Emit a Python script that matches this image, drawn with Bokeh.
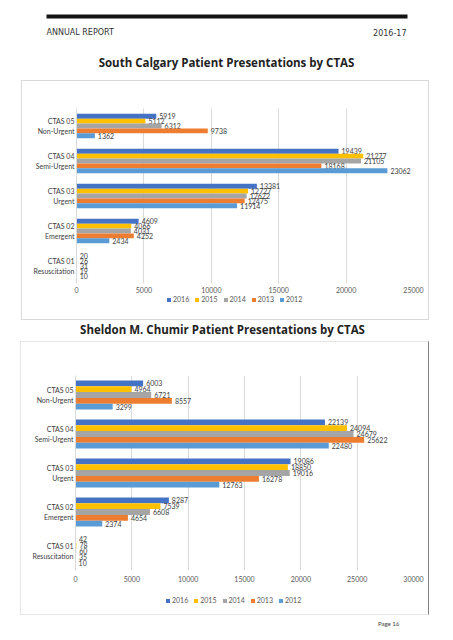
from bokeh.plotting import figure
from bokeh.models import ColumnDataSource, Range1d, FactorRange, FixedTicker, Legend, LegendItem, Spacer
from bokeh.transform import dodge
from bokeh.layouts import column, row
from bokeh.core.properties import value
from bokeh.embed import file_html
from bokeh.resources import INLINE

# ---------------- data ----------------
header_left = "ANNUAL REPORT"
header_right = "2016-17"
title_sc = "South Calgary Patient Presentations by CTAS"
title_smc = "Sheldon M. Chumir Patient Presentations by CTAS"
footer = "Page 16"

categories = ["CTAS 05\nNon-Urgent", "CTAS 04\nSemi-Urgent", "CTAS 03\nUrgent",
              "CTAS 02\nEmergent", "CTAS 01\nResuscitation"]
years = ["2016", "2015", "2014", "2013", "2012"]
colors = ["#4472C4", "#FFC000", "#A5A5A5", "#ED7D31", "#5B9BD5"]

sc_2016 = [5919, 19439, 13381, 4609, 20]
sc_2015 = [5112, 21277, 12727, 4066, 26]
sc_2014 = [6312, 21105, 12622, 4031, 31]
sc_2013 = [9738, 18168, 12475, 4252, 19]
sc_2012 = [1362, 23062, 11914, 2434, 10]
sc_ticks = [0, 5000, 10000, 15000, 20000, 25000]

smc_2016 = [6003, 22139, 19086, 8287, 42]
smc_2015 = [4964, 24094, 18850, 7539, 78]
smc_2014 = [6721, 24679, 19016, 6608, 60]
smc_2013 = [8557, 25622, 16278, 4654, 35]
smc_2012 = [3299, 22480, 12763, 2374, 10]
smc_ticks = [0, 5000, 10000, 15000, 20000, 25000, 30000]

FONT = "Lato"
TFONT = "Open Sans"
LEFT = 54
RIGHT = 15


def blank(h, w=453):
    p = figure(width=w, height=h, x_range=Range1d(0, w), y_range=Range1d(h, 0),
               output_backend="svg", toolbar_location=None, min_border=0,
               x_axis_type=None, y_axis_type=None, outline_line_color=None)
    p.grid.visible = False
    return p


def chart(series, ticks, fw, fh, btop, bbottom, step, bar_h, x_standoff):
    p = figure(frame_width=fw, frame_height=fh, output_backend="svg", toolbar_location=None,
               y_range=FactorRange(factors=categories[::-1], range_padding=0),
               x_range=Range1d(0, ticks[-1]),
               min_border_left=LEFT, min_border_right=RIGHT,
               min_border_top=btop, min_border_bottom=bbottom,
               outline_line_color=None)
    data = {"cat": categories}
    for y, s in zip(years, series):
        data[y] = s
        data["t" + y] = [str(v) for v in s]
    src = ColumnDataSource(data)
    offsets = [2 * step, step, 0, -step, -2 * step]
    for y, c, off in zip(years, colors, offsets):
        p.hbar(y=dodge("cat", off, range=p.y_range), right=y, left=0, height=bar_h,
               source=src, fill_color=c, line_color=None)
        p.text(x=y, y=dodge("cat", off, range=p.y_range), text="t" + y, source=src,
               x_offset=3, text_baseline="middle", text_align="left",
               text_font_size="7px", text_color="#404040", text_font=value(FONT))
    p.ygrid.grid_line_color = None
    p.xgrid.grid_line_color = "#d9d9d9"
    p.xaxis.ticker = FixedTicker(ticks=ticks)
    p.xaxis.axis_line_color = None
    p.xaxis.major_tick_line_color = None
    p.xaxis.minor_tick_line_color = None
    p.xaxis.major_tick_out = 0
    p.xaxis.major_label_text_font_size = "7px"
    p.xaxis.major_label_text_color = "#595959"
    p.xaxis.major_label_text_font = FONT
    p.xaxis.major_label_standoff = x_standoff
    p.yaxis.axis_line_color = "#d9d9d9"
    p.yaxis.major_tick_line_color = None
    p.yaxis.minor_tick_line_color = None
    p.yaxis.major_tick_out = 0
    p.yaxis.major_label_text_font_size = "7px"
    p.yaxis.major_label_text_color = "#404040"
    p.yaxis.major_label_text_font = FONT
    p.yaxis.major_label_standoff = 2
    return p


def legend_fig(w, h, loc):
    p = figure(width=w, height=h, x_range=Range1d(0, 1), y_range=Range1d(0, 1),
               output_backend="svg", toolbar_location=None, min_border=0,
               x_axis_type=None, y_axis_type=None, outline_line_color=None)
    p.grid.visible = False
    items = []
    for y, c in zip(years, colors):
        # zero-size proxy so the legend can draw each series' colour swatch
        r = p.quad(left=[0], right=[0], top=[0], bottom=[0], fill_color=c, line_color=None)
        items.append(LegendItem(label=y, renderers=[r]))
    leg = Legend(items=items, orientation="horizontal", location=loc,
                 glyph_width=5, glyph_height=5, label_text_font_size="7px",
                 label_text_color="#595959", label_text_font=FONT,
                 label_standoff=2, spacing=5, padding=0, margin=0,
                 label_height=8, label_width=0, border_line_color=None,
                 background_fill_alpha=0)
    p.add_layout(leg, "center")
    return p


# header
f0 = blank(80)
f0.quad(left=[46], right=[407], top=[14], bottom=[18], fill_color="#141414", line_color=None)
f0.text(x=[46], y=[32], text=[header_left], text_font=value("DejaVu Sans"), text_font_size="8px",
        text_color="#333333", text_baseline="middle", text_align="left")
f0.text(x=[406], y=[32], text=[header_right], text_font=value("DejaVu Sans"), text_font_size="8px",
        text_color="#333333", text_baseline="middle", text_align="right")
f0.text(x=[226], y=[62], text=[title_sc], text_font=value(TFONT), text_font_size="11.5px",
        text_font_style="bold", text_color="#222222", text_baseline="middle", text_align="center")

# chart 1
f1 = chart([sc_2016, sc_2015, sc_2014, sc_2013, sc_2012], sc_ticks, 337, 175, 27, 12, 0.14, 0.14, 3)
l1 = legend_fig(LEFT + 337 + RIGHT, 24, (90, 16))
box1 = column(f1, l1, styles={"border": "1px solid #d9d9d9"})

f2 = blank(21)
f2.text(x=[222], y=[9], text=[title_smc], text_font=value(TFONT), text_font_size="11.5px",
        text_font_style="bold", text_color="#222222", text_baseline="middle", text_align="center")

# chart 2
f3 = chart([smc_2016, smc_2015, smc_2014, smc_2013, smc_2012], smc_ticks, 338, 195, 33, 16, 0.148, 0.148, 5)
l3 = legend_fig(LEFT + 338 + RIGHT, 28, (90, 10))
box3 = column(f3, l3, styles={"border": "1px solid #e6e6e6", "border-right": "1px solid #808080"})

f4 = blank(22)
f4.text(x=[388], y=[8], text=[footer], text_font=value(FONT), text_font_size="6px",
        text_color="#404040", text_baseline="middle", text_align="center")

layout = column(f0, row(Spacer(width=21), box1), f2, row(Spacer(width=20), box3), f4)
open("out.html", "w").write(file_html(layout, INLINE))
